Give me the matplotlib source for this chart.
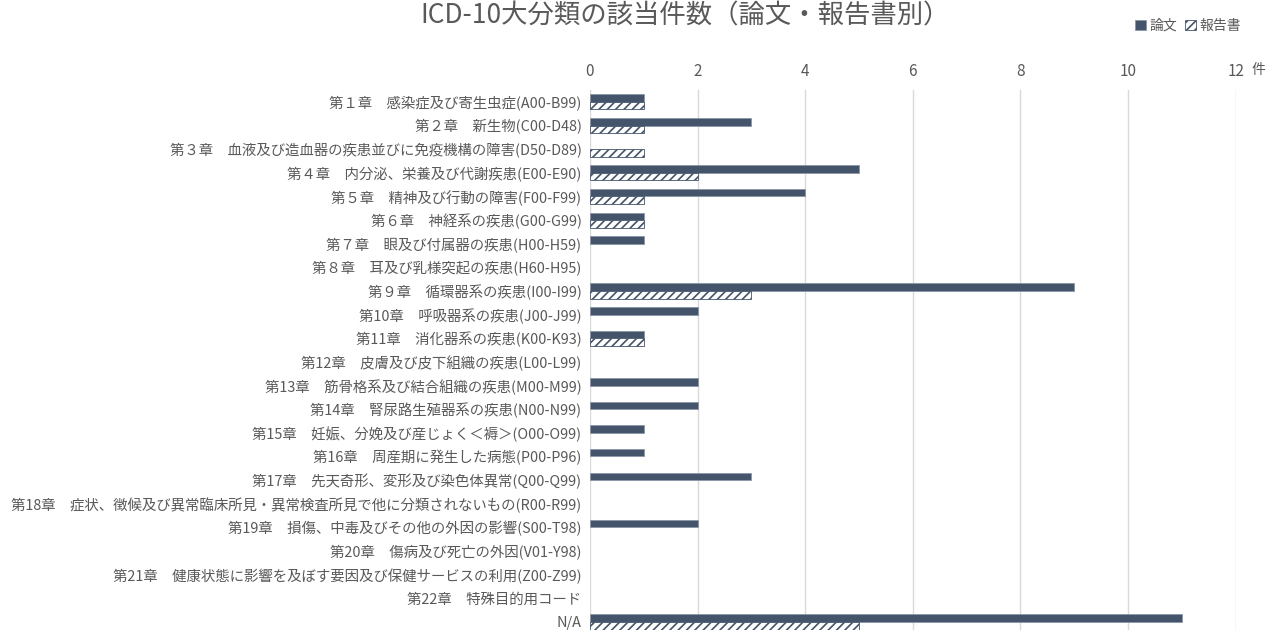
import matplotlib.pyplot as plt
import numpy as np

plt.rcParams['font.family'] = ['Noto Sans CJK JP', 'DejaVu Sans']
plt.rcParams['hatch.linewidth'] = 1.2

# データ
chapters = [
    "第１章　感染症及び寄生虫症(A00-B99)",
    "第２章　新生物(C00-D48)",
    "第３章　血液及び造血器の疾患並びに免疫機構の障害(D50-D89)",
    "第４章　内分泌、栄養及び代謝疾患(E00-E90)",
    "第５章　精神及び行動の障害(F00-F99)",
    "第６章　神経系の疾患(G00-G99)",
    "第７章　眼及び付属器の疾患(H00-H59)",
    "第８章　耳及び乳様突起の疾患(H60-H95)",
    "第９章　循環器系の疾患(I00-I99)",
    "第10章　呼吸器系の疾患(J00-J99)",
    "第11章　消化器系の疾患(K00-K93)",
    "第12章　皮膚及び皮下組織の疾患(L00-L99)",
    "第13章　筋骨格系及び結合組織の疾患(M00-M99)",
    "第14章　腎尿路生殖器系の疾患(N00-N99)",
    "第15章　妊娠、分娩及び産じょく＜褥＞(O00-O99)",
    "第16章　周産期に発生した病態(P00-P96)",
    "第17章　先天奇形、変形及び染色体異常(Q00-Q99)",
    "第18章　症状、徴候及び異常臨床所見・異常検査所見で他に分類されないもの(R00-R99)",
    "第19章　損傷、中毒及びその他の外因の影響(S00-T98)",
    "第20章　傷病及び死亡の外因(V01-Y98)",
    "第21章　健康状態に影響を及ぼす要因及び保健サービスの利用(Z00-Z99)",
    "第22章　特殊目的用コード",
    "N/A",
]
papers = [1, 3, 0, 5, 4, 1, 1, 0, 9, 2, 1, 0, 2, 2, 1, 1, 3, 0, 2, 0, 0, 0, 11]
reports = [1, 1, 1, 2, 1, 1, 0, 0, 3, 0, 1, 0, 0, 0, 0, 0, 0, 0, 0, 0, 0, 0, 5]
x_ticks = [0, 2, 4, 6, 8, 10, 12]

navy = '#44546A'
gray_text = '#595959'

fig = plt.figure(figsize=(12.66, 6.3), dpi=100)
ax = fig.add_axes([0.466, -0.006, 0.510, 0.863])

y = np.arange(len(chapters))
h = 0.32
# 0件のバーは枠線も描かない
ax.barh(y - h / 2, papers, height=h, color=navy, edgecolor='#8A97A8',
        linewidth=[0.6 if v else 0 for v in papers], label='論文', zorder=3)
ax.barh(y + h / 2, reports, height=h, color='white', edgecolor=navy,
        hatch='////', linewidth=[0.6 if v else 0 for v in reports],
        label='報告書', zorder=3)

ax.set_ylim(len(chapters) - 0.5, -0.5)
ax.set_xlim(0, 12)
ax.set_yticks(y)
ax.set_yticklabels(chapters, fontsize=10.4, color=gray_text)
ax.set_xticks(x_ticks)
ax.set_xticklabels([str(t) for t in x_ticks], fontsize=11, color=gray_text)
ax.xaxis.tick_top()
ax.tick_params(axis='both', length=0)
ax.tick_params(axis='x', pad=7)
ax.tick_params(axis='y', pad=6)
ax.grid(axis='x', color='#D9D9D9', linewidth=1, zorder=0)
for s in ax.spines.values():
    s.set_visible(False)

fig.text(1258 / 1266, 1 - 70 / 630, '件', fontsize=10, color=gray_text,
         ha='center', va='center')

fig.text(685 / 1266, 1 - 16 / 630, 'ICD-10大分類の該当件数（論文・報告書別）',
         fontsize=19, color=gray_text, ha='center', va='center')

fig.legend(loc='upper right', bbox_to_anchor=(0.99, 0.99), ncol=2, frameon=False,
           fontsize=10, handlelength=0.8, handleheight=0.8, handletextpad=0.2,
           columnspacing=0.6, labelcolor=gray_text)

fig.savefig('out.png', dpi=100)
